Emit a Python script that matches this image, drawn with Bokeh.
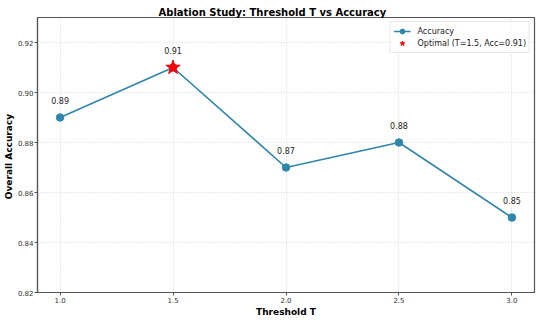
from bokeh.plotting import figure
from bokeh.models import ColumnDataSource, Range1d, FixedTicker, Legend, LegendItem, LabelSet
from bokeh.core.properties import value
from bokeh.embed import file_html
from bokeh.resources import INLINE

thresholds = [1.0, 1.5, 2.0, 2.5, 3.0]
accuracy = [0.89, 0.91, 0.87, 0.88, 0.85]
acc_labels = ["0.89", "0.91", "0.87", "0.88", "0.85"]
best_t = [1.5]
best_acc = [0.91]
x_ticks = [1.0, 1.5, 2.0, 2.5, 3.0]
y_ticks = [0.82, 0.84, 0.86, 0.88, 0.90, 0.92]
title_text = "Ablation Study: Threshold T vs  Accuracy"
x_label_text = "Threshold T"
y_label_text = "Overall  Accuracy"

FONT = "DejaVu Sans"
LINE = "#2E86AB"

p = figure(width=536, height=319, output_backend="svg", toolbar_location=None,
           x_range=Range1d(0.9, 3.1), y_range=Range1d(0.82, 0.93),
           min_border_left=33, min_border_right=2, min_border_top=17, min_border_bottom=0)

p.title.text = title_text
p.title.text_font = FONT
p.title.text_font_size = "10px"
p.title.text_font_style = "bold"
p.title.text_color = "black"
p.title.align = "left"
p.title.offset = 121
p.title.standoff = 0

src = ColumnDataSource(dict(x=thresholds, y=accuracy, lab=acc_labels))
r_line = p.line("x", "y", source=src, line_color=LINE, line_width=1.6)
r_pts = p.scatter("x", "y", source=src, size=7.5, fill_color=LINE, line_color=LINE)
r_star = p.scatter(best_t, best_acc, marker="star", size=15, fill_color="red", line_color="red")

labels = LabelSet(x="x", y="y", text="lab", source=src, y_offset=17, text_align="center",
                  text_baseline="middle", text_font=value(FONT), text_font_size=value("8px"),
                  text_color=value("#222222"))
p.add_layout(labels)

legend = Legend(items=[LegendItem(label="Accuracy", renderers=[r_line, r_pts]),
                       LegendItem(label="Optimal (T=1.5, Acc=0.91)", renderers=[r_star])],
                location="top_right")
legend.label_text_font = FONT
legend.label_text_font_size = "8px"
legend.label_text_color = "#222222"
legend.label_height = 11
legend.glyph_height = 12
legend.glyph_width = 17
legend.spacing = 0
legend.padding = 3
legend.margin = 4
legend.label_standoff = 7
legend.border_line_color = "#d0d0d0"
legend.border_line_width = 1
legend.background_fill_alpha = 0.85
p.add_layout(legend)

p.xaxis.ticker = FixedTicker(ticks=x_ticks)
p.yaxis.ticker = FixedTicker(ticks=y_ticks)
p.xaxis.major_label_overrides = {t: f"{t:.1f}" for t in x_ticks}
p.yaxis.major_label_overrides = {t: f"{t:.2f}" for t in y_ticks}

for ax in (p.xaxis, p.yaxis):
    ax.major_label_text_font = FONT
    ax.major_label_text_font_size = "7px"
    ax.major_label_text_color = "#333333"
    ax.axis_label_text_font = FONT
    ax.axis_label_text_font_size = "9px"
    ax.axis_label_text_font_style = "bold"
    ax.axis_label_text_color = "black"
    ax.minor_tick_line_color = None
    ax.major_tick_in = 0
    ax.major_tick_out = 3
    ax.major_tick_line_color = "#555555"
    ax.axis_line_color = "#555555"
    ax.axis_line_width = 1.2
    ax.major_label_standoff = 1
    ax.axis_label_standoff = 1

p.xaxis.axis_label = x_label_text
p.yaxis.axis_label = y_label_text

p.outline_line_color = "#555555"
p.outline_line_width = 1.2

p.xgrid.grid_line_color = "#b0b0b0"
p.ygrid.grid_line_color = "#b0b0b0"
p.xgrid.grid_line_alpha = 0.5
p.ygrid.grid_line_alpha = 0.5
p.xgrid.grid_line_dash = "1 2"
p.ygrid.grid_line_dash = "1 2"

open("out.html", "w").write(file_html(p, INLINE))
